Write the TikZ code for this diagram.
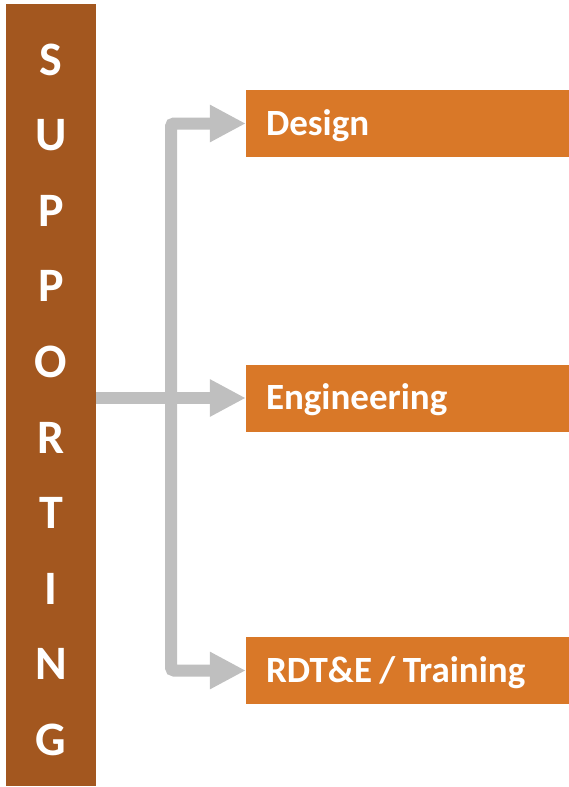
\documentclass[tikz,border=0pt]{standalone}
\usepackage{fontspec}
\setmainfont{Carlito}
\usepackage{tikz}
\usetikzlibrary{arrows.meta}
\usetikzlibrary{math}
\definecolor{barbrown}{HTML}{A3571F}
\definecolor{boxorange}{HTML}{D97828}
\definecolor{pipegray}{HTML}{BFBFBF}
\tikzset{
    sidebar/.style={fill=barbrown, minimum width=90pt, minimum height=782pt, inner sep=0pt},
    letter/.style={text=white, font=\bfseries\fontsize{48}{48}\selectfont,
        text height=32pt, text depth=0pt, inner sep=0pt},
    item/.style={fill=boxorange, text=white,
        font=\bfseries\fontsize{37}{37}\selectfont,
        execute at begin node={\spaceskip=0.2em\relax},
        minimum width=323pt, minimum height=67pt, text width=283pt, align=left,
        inner xsep=20pt, inner ysep=0pt, text height=23pt, text depth=0pt},
    pipe/.style={draw=pipegray, line width=12pt, rounded corners=3pt},
}

\begin{document}
\begin{tikzpicture}[x=1pt, y=-1pt]
    \useasboundingbox (0,0) rectangle (569,787);
    %% 左侧竖条
    \node[sidebar] (bar) at (51,395) {};
    %% 竖排字母,间距固定
    \foreach \ch [count=\k from 0] in {S,U,P,P,O,R,T,I,N,G}{
        \tikzmath{\ly = 59 + 75.6*\k;}
        \node[letter] (ch\k) at (51,\ly) {\ch};
    }
    %% 右侧三个方框
    \node[item] (design) at (407.5,123.5) {Design};
    \node[item] (engineering) at (407.5,398) {Engineering};
    \node[item] (training) at (407.5,670.5) {RDT\&E / Training};
    %% 灰色连线
    \coordinate (trunk) at (171,398);
    \draw[pipe, -{Triangle[length=36pt, width=35pt]}] (bar.east |- engineering.west) -- (engineering.west);
    \draw[pipe, {Triangle[length=36pt, width=35pt]}-{Triangle[length=36pt, width=35pt]}]
        (design.west) -| (trunk) |- (training.west);
\end{tikzpicture}
\end{document}
